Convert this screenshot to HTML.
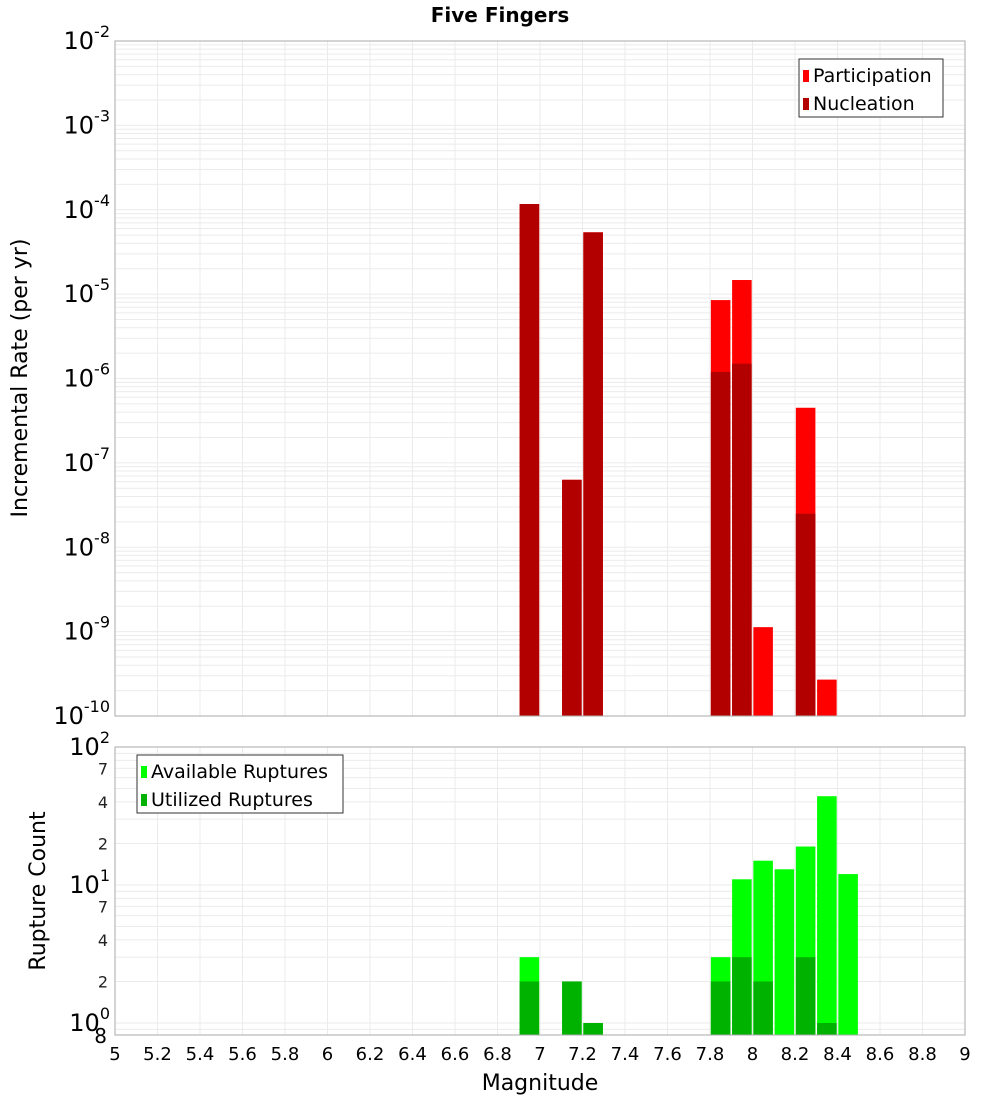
<!DOCTYPE html>
<html><head><meta charset="utf-8"><style>
body{margin:0;background:#fff;font-family:"Liberation Sans","DejaVu Sans",sans-serif}
svg text{font-family:"DejaVu Sans","Liberation Sans",sans-serif}
</style></head><body>
<svg id="c" width="1000" height="1100" xmlns="http://www.w3.org/2000/svg">
<text x="500" y="22" text-anchor="middle" font-size="20" font-weight="bold">Five Fingers</text>
<text transform="translate(27,378) rotate(-90)" text-anchor="middle" font-size="22">Incremental Rate (per yr)</text>
<text transform="translate(45,891) rotate(-90)" text-anchor="middle" font-size="22">Rupture Count</text>
<text x="540" y="1090" text-anchor="middle" font-size="22">Magnitude</text>
</svg>
<script>
const mags=[6.95,7.15,7.25,7.85,7.95,8.05,8.25,8.35,8.15,8.45];
const topMags=[6.95,7.15,7.25,7.85,7.95,8.05,8.25,8.35];
const participation=[1.17e-4,6.3e-8,5.4e-5,8.5e-6,1.47e-5,1.13e-9,4.5e-7,2.7e-10];
const nucleation=[1.17e-4,6.3e-8,5.4e-5,1.2e-6,1.5e-6,0,2.5e-8,0];
const botMags=[6.95,7.15,7.25,7.85,7.95,8.05,8.15,8.25,8.35,8.45];
const available=[3,2,1,3,11,15,13,19,44,12];
const utilized=[2,2,1,2,3,2,0,3,1,0];
const xTicks=[5,5.2,5.4,5.6,5.8,6,6.2,6.4,6.6,6.8,7,7.2,7.4,7.6,7.8,8,8.2,8.4,8.6,8.8,9];
const topExps=[-2,-3,-4,-5,-6,-7,-8,-9,-10];
const botExps=[2,1,0];
const botMinor=[7,4,2];

const svg=document.getElementById('c');
const NS='http://www.w3.org/2000/svg';
const L=115,R=965,T1=41,B1=716,T2=747,B2=1035;
const x=m=>L+(m-5)/4*(R-L);
const yTop=v=>B1-(Math.log10(v)+10)/8*(B1-T1);
const dec2=138, y1=1023;
const yBot=v=>y1-Math.log10(v)*dec2;
function el(t,a,p){const e=document.createElementNS(NS,t);for(const k in a)e.setAttribute(k,a[k]);(p||svg).appendChild(e);return e;}

// plot backgrounds & grids
const g1=el('g',{});


for(let e=-10;e<-2;e++)for(let k=1;k<10;k++){const yy=yTop(k*Math.pow(10,e));const l=el('line',{x1:L,x2:R,y1:yy,y2:yy,stroke:'#ebebeb','stroke-width':1},g1);}
const g2=el('g',{});


for(let e=-1;e<2;e++)for(let k=1;k<10;k++){const v=k*Math.pow(10,e);const yy=yBot(v);if(yy<T2||yy>B2)continue;el('line',{x1:L,x2:R,y1:yy,y2:yy,stroke:'#ebebeb','stroke-width':1},g2);}
xTicks.forEach(t=>{el('line',{x1:x(t),x2:x(t),y1:T1,y2:B1,stroke:'#ebebeb'},g1);el('line',{x1:x(t),x2:x(t),y1:T2,y2:B2,stroke:'#ebebeb'},g2);});

// top bars
const bw=(x(7.05)-x(6.95))*0.92;
topMags.forEach((m,i)=>{
 if(participation[i]>0){const yy=yTop(participation[i]);const r=el('rect',{x:x(m)-bw/2,y:yy,width:bw,height:B1-yy,fill:'#ff0000'});
 
 }
 if(nucleation[i]>0){const yy=yTop(nucleation[i]);const r=el('rect',{x:x(m)-bw/2,y:yy,width:bw,height:B1-yy,fill:'#b20000'});
 
 }
});
botMags.forEach((m,i)=>{
 if(available[i]>0){const yy=yBot(available[i]);const r=el('rect',{x:x(m)-bw/2,y:yy,width:bw,height:B2-yy,fill:'#00ff00'});
 
 }
 if(utilized[i]>0){const yy=yBot(utilized[i]);const r=el('rect',{x:x(m)-bw/2,y:yy,width:bw,height:B2-yy,fill:'#00b200'});
 
 }
});
el('rect',{x:L,y:T1,width:R-L,height:B1-T1,fill:'none',stroke:'#aaa'});
el('rect',{x:L,y:T2,width:R-L,height:B2-T2,fill:'none',stroke:'#aaa'});

// axis labels
topExps.forEach(e=>{const yy=yTop(Math.pow(10,e));const t=el('text',{x:L-5,y:yy+8,'text-anchor':'end','font-size':24});
 
 
 t.innerHTML='10<tspan dy="-12" font-size="16">'+e+'</tspan>';});
botExps.forEach(e=>{const yy=yBot(Math.pow(10,e));const t=el('text',{x:L-5,y:yy+8,'text-anchor':'end','font-size':24});
 
 
 t.innerHTML='10<tspan dy="-12" font-size="16">'+e+'</tspan>';});
[0,1].forEach(e=>botMinor.forEach(k=>{const yy=yBot(k*Math.pow(10,e));const t=el('text',{x:L-7,y:yy+6,'text-anchor':'end','font-size':16,fill:'#222'});
 
 
 t.textContent=k;}));
{const t=el('text',{x:L-8,y:B2+8,'text-anchor':'end','font-size':20});
 
 
 t.textContent='8';}
xTicks.forEach(v=>{const t=el('text',{x:x(v),y:1060,'text-anchor':'middle','font-size':18});
 
 
 t.textContent=String(Math.round(v*10)/10);});

// legends
function legend(x0,y0,w,items,name){const g=el('g',{});
 
 
 el('rect',{x:x0,y:y0,width:w,height:58,fill:'#fff',stroke:'#333'},g);
 items.forEach((it,i)=>{el('rect',{x:x0+4,y:y0+11+i*28,width:6,height:12,fill:it[1]},g);const t=el('text',{x:x0+14,y:y0+23+i*28,'font-size':19},g);t.textContent=it[0];});}
legend(799,59,144,[['Participation','#ff0000'],['Nucleation','#b20000']],'top-legend');
legend(137,755,206,[['Available Ruptures','#00ff00'],['Utilized Ruptures','#00b200']],'bottom-legend');
</script>
</body></html>
